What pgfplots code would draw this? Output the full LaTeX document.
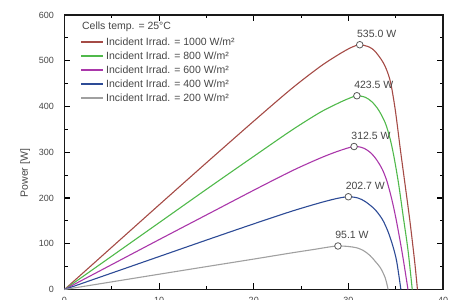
\documentclass[border=0pt]{standalone}
\usepackage{fontspec}
\setmainfont{Liberation Sans}
\usepackage{pgfplots}
\pgfplotsset{compat=1.18}
\definecolor{cRed}{RGB}{165,75,70}
\definecolor{cGreen}{RGB}{80,185,75}
\definecolor{cMag}{RGB}{170,55,170}
\definecolor{cBlue}{RGB}{45,75,150}
\definecolor{cGray}{RGB}{160,160,160}
\definecolor{txt}{RGB}{70,70,70}
\begin{document}
\begin{tikzpicture}
\begin{axis}[
  scale only axis, width=378.5pt, height=274.5pt,
  xmin=0, xmax=40, ymin=0, ymax=600,
  xtick={0,10,...,40}, ytick={0,100,...,600},
  minor x tick num=1, minor y tick num=1,
  tick align=inside, tick pos=both,
  major tick length=6pt, minor tick length=3.5pt,
  every tick/.style={black, line width=1.1pt},
  axis line style={line width=1.6pt, black!90},
  /pgf/number format/assume math mode=true,
  ticklabel style={font=\fontsize{9}{10}\selectfont, text=txt},
  yticklabel style={xshift=-7pt},
  xticklabel style={yshift=-4.5pt},
  ylabel={Power [W]},
  ylabel style={font=\fontsize{10.5}{12}\selectfont, text=txt, at={(axis description cs:-0.104,0.424)}, anchor=center},
  legend style={draw=none, fill=none, at={(axis description cs:0.041,0.927)}, anchor=north west,
    inner sep=0pt, font=\fontsize{10.5}{12}\selectfont, text=txt,
    nodes={inner sep=2pt, text height=8pt, text depth=2pt},
    row sep=0pt},
  legend cell align=left,
  /tikz/every even column/.append style={column sep=3pt},
  legend image code/.code={\draw[#1, line width=2pt] (0pt,0pt) -- (22pt,0pt);},
  clip=false,
]
\addplot[cRed, line width=1.1pt, smooth, tension=0.5] coordinates {
(0,0) (5,92.5) (10,185) (15,277) (20,368) (24,439) (27,487) (29,514) (30.3,529) (31.2,535)
(32.2,530) (32.8,521) (33.5,502) (33.9,487) (34.3,465) (34.6,438) (35.0,386) (35.5,305)
(36.0,228) (36.5,150) (37.0,62) (37.3,0)};
\addlegendentry{Incident Irrad. = 1000 W/m²}
\addplot[cGreen, line width=1.1pt, smooth, tension=0.5] coordinates {
(0,0) (5,73) (10,146) (15,219) (20,291) (24,348) (27,387) (29,408) (30.1,418) (30.9,423.5)
(31.8,420) (32.5,410) (33.2,392) (33.9,364) (34.4,330) (34.8,292) (35.3,232) (35.8,159)
(36.3,86) (36.75,0)};
\addlegendentry{Incident Irrad. = 800 W/m²}
\addplot[cMag, line width=1.1pt, smooth, tension=0.5] coordinates {
(0,0) (5,54.5) (10,109) (15,163) (20,217) (24,259) (27,287) (29,303) (30.6,312.5)
(31.6,309) (32.4,298) (33.0,283) (33.6,262) (34.1,235) (34.6,196) (35.0,158) (35.4,114)
(35.8,66) (36.3,0)};
\addlegendentry{Incident Irrad. = 600 W/m²}
\addplot[cBlue, line width=1.1pt, smooth, tension=0.5] coordinates {
(0,0) (5,36) (10,72) (15,108) (20,143.5) (24,171) (27,189.5) (28.8,199) (30.0,202.7)
(31.0,200) (31.8,192) (32.8,175) (33.6,153) (34.2,126) (34.7,95) (35.1,62) (35.55,0)};
\addlegendentry{Incident Irrad. = 400 W/m²}
\addplot[cGray, line width=1.1pt, smooth, tension=0.5] coordinates {
(0,0) (5,16.7) (10,33.4) (15,50) (20,66.5) (24,80) (26.5,88) (28,93) (28.9,95.1)
(30.0,94) (30.9,91) (31.6,85) (32.3,74) (32.9,60) (33.4,47) (33.9,25) (34.2,0)};
\addlegendentry{Incident Irrad. = 200 W/m²}
\addplot[only marks, mark=*, mark size=3.3pt, mark options={draw=black!65, fill=white, line width=0.8pt},
  point meta=explicit symbolic, nodes near coords,
  nodes near coords style={anchor=south west, inner sep=0pt, xshift=-3pt, yshift=6.5pt,
    font=\fontsize{10.5}{12}\selectfont, text=txt},
  forget plot] coordinates {
(31.2,535) [535.0 W]
(30.9,423.5) [423.5 W]
(30.6,312.5) [312.5 W]
(30.0,202.7) [202.7 W]
(28.9,95.1) [95.1 W]};
\node[anchor=west, inner sep=0pt, font=\fontsize{10.5}{12}\selectfont, text=txt]
  at (axis description cs:0.046,0.956) {Cells temp. = 25°C};
\end{axis}
\pgfresetboundingbox
\useasboundingbox ([xshift=-64.5pt,yshift=-10.5pt]current axis.south west) rectangle ([xshift=8pt,yshift=15pt]current axis.north east);
\end{tikzpicture}
\end{document}
